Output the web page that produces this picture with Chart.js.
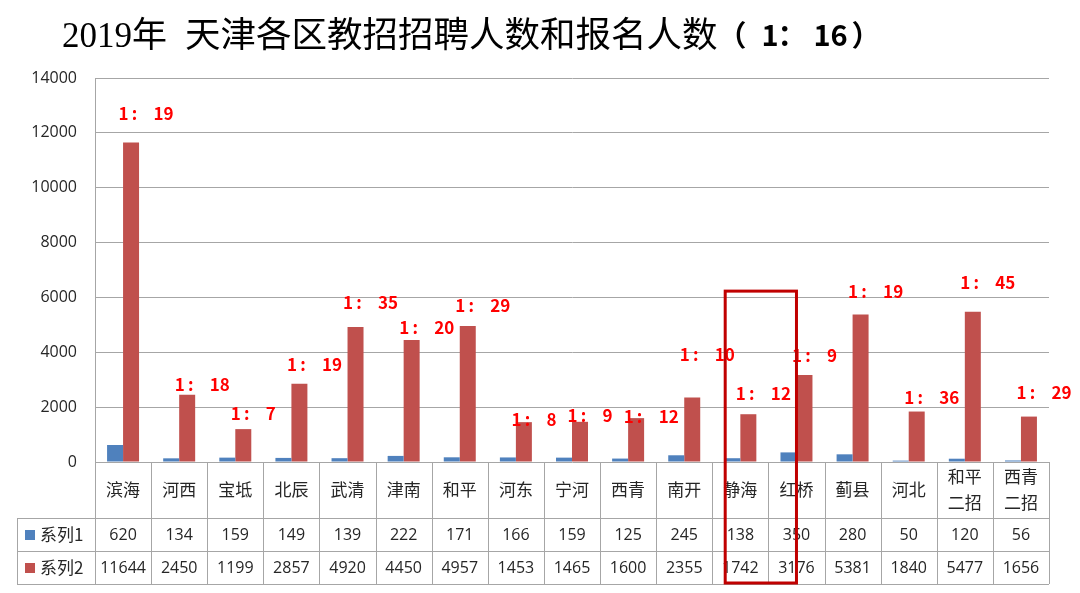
<!DOCTYPE html>
<html>
<head>
<meta charset="utf-8">
<script src="https://cdn.jsdelivr.net/npm/chart.js@4"></script>
<style>
    html, body { margin: 0; padding: 0; background: #fff; }
    #wrap { width: 1080px; height: 593px; position: relative; }
</style>
</head>
<body>
<div id="wrap"><canvas id="chart"></canvas></div>
<script>
// Districts (two-line ones split into lines)
const districts = [
    ["滨海"], ["河西"], ["宝坻"], ["北辰"], ["武清"], ["津南"], ["和平"], ["河东"], ["宁河"],
    ["西青"], ["南开"], ["静海"], ["红桥"], ["蓟县"], ["河北"], ["和平", "二招"], ["西青", "二招"],
];
const seriesNames = ["系列1", "系列2"];
const hires = [620, 134, 159, 149, 139, 222, 171, 166, 159, 125, 245, 138, 350, 280, 50, 120, 56];
const applicants = [11644, 2450, 1199, 2857, 4920, 4450, 4957, 1453, 1465, 1600, 2355, 1742, 3176, 5381, 1840, 5477, 1656];
const ratios = [19, 18, 7, 19, 35, 20, 29, 8, 9, 12, 10, 12, 9, 19, 36, 45, 29];
const yTicks = [0, 2000, 4000, 6000, 8000, 10000, 12000, 14000];
const highlighted = "静海";

// Ratio labels were placed by hand in the original: lift (px) above the red bar top
const ratioLift = [29, 10, 16, 19, 25, 12, 20, 3, 6, 2, 43, 21, 19, 23, 14, 29, 24];

const colors = ["#4F81BD", "#C0504D"];
const gridColor = "#a6a6a6";
const textColor = "#262626";
const numFont = "16px 'Open Sans', 'Liberation Sans', sans-serif";
const cjkFont = "17px 'Noto Sans CJK SC', sans-serif";

// Title with mixed fonts, drawn by hand
const titlePlugin = {
    id: "mixedTitle",
    afterDraw(chart) {
        const ctx = chart.ctx;
        ctx.save();
        ctx.fillStyle = "#000";
        ctx.textBaseline = "alphabetic";
        ctx.textAlign = "left";
        let x = 62;
        ctx.font = "35px 'Liberation Serif', serif";
        ctx.fillText("2019", x, 47);
        x += ctx.measureText("2019").width;
        ctx.font = "35px 'Noto Sans CJK SC', serif";
        ctx.fillText("年", x, 47);
        x += ctx.measureText("年").width + 18;
        ctx.font = "35.5px 'Noto Sans CJK SC', serif";
        ctx.fillText("天津各区教招招聘人数和报名人数", x, 47);
        x += ctx.measureText("天津各区教招招聘人数和报名人数").width;
        // "（1： 16）" spaced out like the original
        ctx.font = "bold 29px 'Noto Sans CJK SC', sans-serif";
        const bits = [["（", 0], ["1", 44], ["：", 60], ["16", 96], ["）", 134]];
        for (const [t, dx] of bits) {
            ctx.fillText(t, x + dx, 46);
        }
        ctx.restore();
    },
};

// Data table under the plot, plus ratio labels and the red box
const tablePlugin = {
    id: "dataTable",
    afterDraw(chart) {
        const ctx = chart.ctx;
        const area = chart.chartArea;
        const xs = chart.scales.x;
        const ys = chart.scales.y;
        const colW = (area.right - area.left) / districts.length;
        const catTop = area.bottom;
        const catBottom = catTop + 56;
        const row1Bottom = catBottom + 33;
        const row2Bottom = row1Bottom + 33;
        const legendLeft = 17;
        const px = (v) => Math.round(v) + 0.5;

        ctx.save();
        ctx.strokeStyle = gridColor;
        ctx.lineWidth = 1;
        ctx.beginPath();
        // horizontal rules
        for (const y of [catBottom, row1Bottom, row2Bottom]) {
            ctx.moveTo(legendLeft, px(y));
            ctx.lineTo(area.right, px(y));
        }
        // vertical rules
        for (let i = 0; i <= districts.length; i++) {
            const x = px(area.left + i * colW);
            ctx.moveTo(x, catTop);
            ctx.lineTo(x, row2Bottom);
        }
        ctx.moveTo(px(legendLeft), catBottom);
        ctx.lineTo(px(legendLeft), row2Bottom);
        ctx.stroke();

        // category labels
        ctx.fillStyle = textColor;
        ctx.textAlign = "center";
        ctx.textBaseline = "middle";
        ctx.font = cjkFont;
        districts.forEach((lines, i) => {
            const cx = xs.getPixelForValue(i);
            const mid = (catTop + catBottom) / 2;
            if (lines.length === 1) {
                ctx.fillText(lines[0], cx, mid);
            } else {
                ctx.fillText(lines[0], cx, mid - 13);
                ctx.fillText(lines[1], cx, mid + 13);
            }
        });

        // series rows
        const rows = [
            [hires, catBottom, row1Bottom],
            [applicants, row1Bottom, row2Bottom],
        ];
        rows.forEach(([values, top, bottom], s) => {
            const mid = (top + bottom) / 2;
            ctx.font = numFont;
            ctx.fillStyle = textColor;
            ctx.textAlign = "center";
            values.forEach((v, i) => {
                ctx.fillText(String(v), xs.getPixelForValue(i), mid + 1);
            });
            // legend key
            ctx.fillStyle = colors[s];
            ctx.fillRect(25, Math.round(mid - 5), 10, 10);
            ctx.fillStyle = textColor;
            ctx.textAlign = "left";
            ctx.font = cjkFont;
            ctx.fillText(seriesNames[s], 40, mid);
        });

        // ratio labels above the red bars: "1 :  n"
        ctx.font = "bold 17px 'Noto Sans CJK SC', sans-serif";
        ctx.fillStyle = "#FF0000";
        ctx.textBaseline = "middle";
        const redBars = chart.getDatasetMeta(1).data;
        ratios.forEach((r, i) => {
            const left = xs.getPixelForValue(i) - colW / 2 + colW * 0.42;
            const y = redBars[i].y - ratioLift[i];
            ctx.textAlign = "left";
            ctx.fillText("1", left, y);
            ctx.textAlign = "center";
            ctx.fillText(":", left + 16, y);
            ctx.textAlign = "left";
            ctx.fillText(String(r), left + 35, y);
        });

        // red highlight box
        const hi = districts.findIndex((d) => d.join("") === highlighted);
        const hc = xs.getPixelForValue(hi);
        const boxTop = ys.getPixelForValue(6230);
        ctx.strokeStyle = "#C00000";
        ctx.lineWidth = 3;
        ctx.strokeRect(hc - colW * 0.27, boxTop, colW * 1.27, row2Bottom - 1 - boxTop);
        ctx.restore();
    },
};

const chartCanvas = document.querySelector("#chart");

new Chart(chartCanvas, {
    type: "bar",
    data: {
        labels: districts.map((d) => d.join("")),
        datasets: [
            { label: seriesNames[0], data: hires, backgroundColor: colors[0] },
            { label: seriesNames[1], data: applicants, backgroundColor: colors[1] },
        ],
    },
    options: {
        responsive: true,
        maintainAspectRatio: false,
        animation: false,
        devicePixelRatio: 1,
        layout: {
            padding: { left: 0, top: 78, right: 31, bottom: 131 },
        },
        datasets: {
            bar: { barPercentage: 1, categoryPercentage: 0.57 },
        },
        scales: {
            x: { display: false },
            y: {
                min: 0,
                max: 14000,
                afterBuildTicks: (scale) => {
                    scale.ticks = yTicks.map((v) => ({ value: v }));
                },
                afterFit: (scale) => {
                    scale.width = 95;
                    scale.paddingTop = 0;
                    scale.paddingBottom = 0;
                },
                ticks: {
                    color: textColor,
                    padding: 18,
                    font: { family: "'Open Sans', 'Liberation Sans', sans-serif", size: 16 },
                    callback: (value) => String(value),
                },
                grid: { color: gridColor, drawTicks: false },
                border: { color: gridColor },
            },
        },
        plugins: {
            legend: { display: false },
            tooltip: { enabled: false },
            title: { display: false },
        },
    },
    plugins: [titlePlugin, tablePlugin],
});
</script>
</body>
</html>
